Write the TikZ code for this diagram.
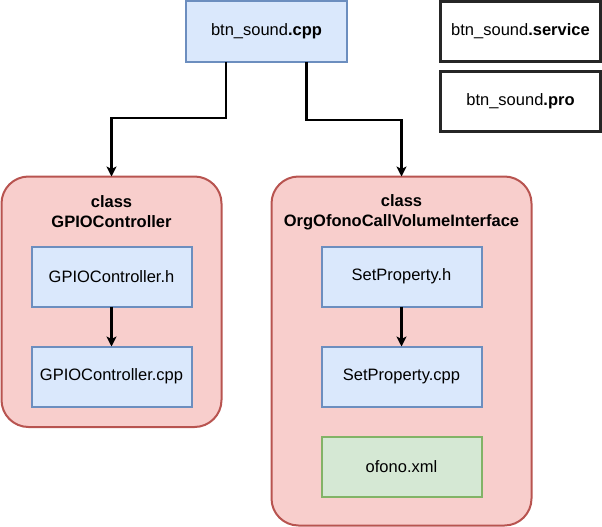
\documentclass[tikz,border=0pt]{standalone}
\usepackage{fontspec}
\setmainfont{Liberation Sans}
\usetikzlibrary{arrows.meta,calc}
\definecolor{bfill}{HTML}{DAE8FC}
\definecolor{bdraw}{HTML}{6C8EBF}
\definecolor{rfill}{HTML}{F8CECC}
\definecolor{rdraw}{HTML}{B85450}
\definecolor{gfill}{HTML}{D5E8D4}
\definecolor{gdraw}{HTML}{82B366}
\begin{document}
\begin{tikzpicture}[x=1pt,y=-1pt,
  every node/.style={font=\fontsize{16.5}{20}\selectfont, inner sep=0pt, outer sep=0pt},
  filebox/.style={draw=bdraw, fill=bfill, line width=2pt, minimum width=160pt, minimum height=60pt},
  plainbox/.style={draw=black!85, fill=white, line width=2.2pt, minimum width=160pt, minimum height=60pt},
  xmlbox/.style={draw=gdraw, fill=gfill, line width=2pt, minimum width=160pt, minimum height=60pt},
  groupbox/.style={draw=rdraw, fill=rfill, line width=2pt, rounded corners=27pt},
  title/.style={align=center, font=\fontsize{16.5}{20}\selectfont\bfseries},
  conn/.style={draw=black, line width=2.2pt, -{Stealth[length=10pt,width=10pt,inset=2.5pt]}}
]
\useasboundingbox (0,0) rectangle (602,527);

\node[filebox, minimum width=161pt, minimum height=61pt] (cpp) at (266.5,31.5) {btn\_sound\textbf{.cpp}};
\node[plainbox] (service) at (520.5,31.5) {btn\_sound\textbf{.service}};
\node[plainbox] (pro) at (520.5,101.5) {btn\_sound\textbf{.pro}};

\node[groupbox, minimum width=220pt, minimum height=250.5pt] (lg) at (111.5,301.75) {};
\node[groupbox, minimum width=260pt, minimum height=349pt] (rg) at (401.5,351) {};

\node[title] (lgt) at (111.5,212) {class\\GPIOController};
\node[title] (rgt) at (401.5,212) {class\\OrgOfonoCallVolumeInterface};

\node[filebox] (gh) at (111.5,276.5) {GPIOController.h};
\node[filebox] (gc) at (111.5,376.5) {GPIOController.cpp};
\node[filebox] (sh) at (401.5,276.5) {SetProperty.h};
\node[filebox] (sc) at (401.5,376.5) {SetProperty.cpp};
\node[xmlbox] (ox) at (401.5,466.5) {ofono.xml};

\draw[conn] ($(cpp.south)+(-40.5,0)$) -- ++(0,56) -| (lg.north);
\draw[conn] ($(cpp.south)+(40,0)$) -- ++(0,58) -| (rg.north);
\draw[conn] (gh.south) -- (gc.north);
\draw[conn] (sh.south) -- (sc.north);
\end{tikzpicture}
\end{document}
